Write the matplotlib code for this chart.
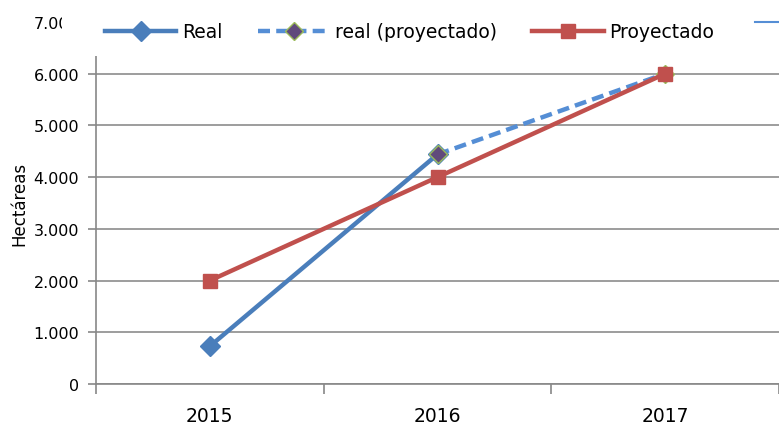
import matplotlib
matplotlib.use("Agg")
import matplotlib.pyplot as plt
from matplotlib.lines import Line2D
from matplotlib.patches import Rectangle
from matplotlib.ticker import FuncFormatter

years = ["2015", "2016", "2017"]
real = [730, 4440, None]
real_proj = [None, 4440, 6000]
proyectado = [2000, 4000, 6000]
y_ticks = [0, 1000, 2000, 3000, 4000, 5000, 6000, 7000]

W, H = 779, 427
fig = plt.figure(figsize=(W/100, H/100), dpi=100)
ax = fig.add_axes([96/W, 1-385/H, 1-96/W, (385-23)/H])

x = list(range(len(years)))
blue = "#4a7ebb"
red = "#c0504d"
dblue = "#558ed5"

xr = [i for i, v in zip(x, real) if v is not None]
yr = [v for v in real if v is not None]
xp = [i for i, v in zip(x, real_proj) if v is not None]
yp = [v for v in real_proj if v is not None]

dash = (0, (2.7, 1.4))
ax.plot(xp, yp, color=dblue, lw=3.2, ls=dash, marker="D", ms=9,
        mfc="#604a7b", mec="#9bbb59", mew=1, zorder=3, clip_on=False)
ax.plot(xr, yr, color=blue, lw=3.2, marker="D", ms=10, mfc=blue, mec=blue, zorder=4, clip_on=False)
ax.plot(xr[-1:], yr[-1:], ls="none", marker="D", ms=9, mfc="#604a7b", mec="#9bbb59", mew=1, zorder=4.5)
ax.plot(x, proyectado, color=red, lw=3.2, marker="s", ms=10.5, mfc=red, mec=red, zorder=5, clip_on=False)

ax.set_xlim(-0.5, 2.5)
ax.set_ylim(0, 7000)
ax.set_yticks(y_ticks)
ax.yaxis.set_major_formatter(FuncFormatter(lambda v, p: f"{int(v):,}".replace(",", ".")))
ax.set_xticks(x)
ax.set_xticklabels(years)
ax.set_xticks([-0.5, 0.5, 1.5, 2.5], minor=True)
ax.tick_params(axis="x", which="major", length=0, pad=16, labelsize=13.5)
ax.tick_params(axis="x", which="minor", length=7, width=1.2, color="#888888", direction="out")
ax.tick_params(axis="y", length=6, width=1.2, color="#888888", labelsize=11.5, pad=6)
ax.grid(axis="y", color="#8c8c8c", lw=1.2)
ax.set_axisbelow(True)
for s in ["top", "right"]:
    ax.spines[s].set_visible(False)
for s in ["left", "bottom"]:
    ax.spines[s].set_color("#888888")
    ax.spines[s].set_linewidth(1.2)
ax.set_ylabel("Hectáreas", fontsize=12, labelpad=4)

# white legend area covering the top of the plot
fig.patches.append(Rectangle((62/W, 1-57/H), 1-62/W, 57/H - 2/H, transform=fig.transFigure,
                             facecolor="white", edgecolor="none", zorder=8))

h_real = Line2D([], [], color=blue, lw=3.2, marker="D", ms=10, mfc=blue, mec=blue)
h_rp = Line2D([], [], color=dblue, lw=3.2, ls=dash, marker="D", ms=9,
              mfc="#604a7b", mec="#9bbb59")
h_pr = Line2D([], [], color=red, lw=3.2, marker="s", ms=10.5, mfc=red, mec=red)
leg = fig.legend([h_real, h_rp, h_pr], ["Real", "real (proyectado)", "Proyectado"],
                 loc="center left", bbox_to_anchor=(105/W, 1-33/H), ncol=3, frameon=False,
                 fontsize=13.5, handlelength=3.8, handletextpad=0.3, columnspacing=1.9,
                 borderaxespad=0, borderpad=0)
leg.set_zorder(10)
fig.add_artist(Line2D([755/W, 1], [1-23/H, 1-23/H], transform=fig.transFigure,
                      color=dblue, lw=1.5, zorder=11))

fig.savefig("out.png", dpi=100)
